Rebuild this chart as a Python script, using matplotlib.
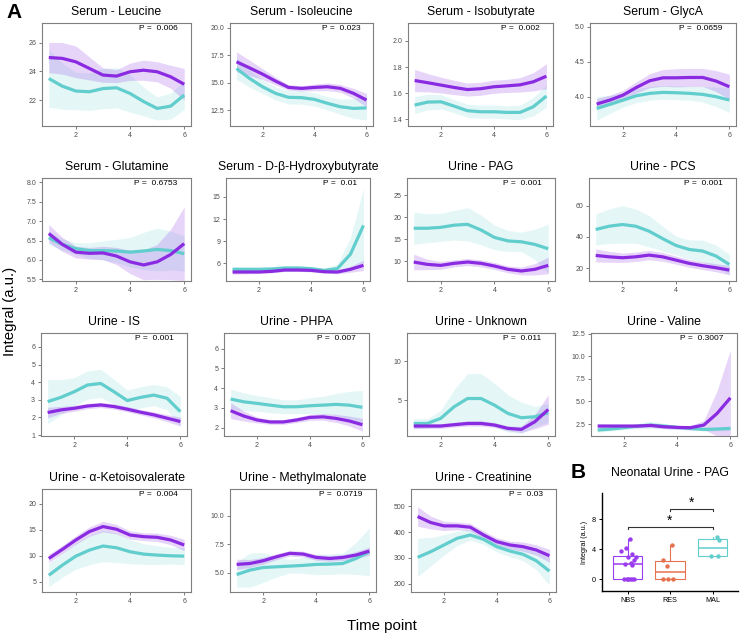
import numpy as np
import matplotlib
matplotlib.use('Agg')
import matplotlib.pyplot as plt

plt.rcParams['font.family'] = ['Liberation Sans', 'DejaVu Sans']

# time points of the smoothed curves
tp = [1, 1.5, 2, 2.5, 3, 3.5, 4, 4.5, 5, 5.5, 6]

# ---- panel A data: fitted curve + half width of the ribbon ----
# purple group (_p) and teal group (_t)
leu_p = [24.96, 24.9, 24.66, 24.2, 23.74, 23.67, 23.97, 24.08, 23.97, 23.62, 23.1]
leu_p_se = [1.05, 1.1, 1.1, 0.8, 0.5, 0.45, 0.6, 0.7, 0.7, 0.8, 1.1]
leu_t = [23.5, 22.97, 22.63, 22.58, 22.8, 22.86, 22.46, 21.9, 21.42, 21.58, 22.35]
leu_t_se = [2.0, 1.6, 1.3, 1.3, 1.4, 1.4, 1.3, 1.0, 0.8, 0.9, 1.0]

ile_p = [16.89, 16.34, 15.77, 15.14, 14.56, 14.47, 14.56, 14.62, 14.47, 14.02, 13.41]
ile_p_se = [0.9, 0.7, 0.5, 0.35, 0.25, 0.25, 0.3, 0.35, 0.35, 0.45, 0.6]
ile_t = [16.28, 15.38, 14.62, 14.02, 13.66, 13.63, 13.47, 13.11, 12.8, 12.65, 12.7]
ile_t_se = [1.0, 0.8, 0.6, 0.6, 0.6, 0.6, 0.6, 0.6, 0.7, 0.9, 1.1]

iso_p = [1.697, 1.68, 1.662, 1.644, 1.628, 1.634, 1.649, 1.656, 1.664, 1.687, 1.73]
iso_p_se = [0.085, 0.07, 0.06, 0.055, 0.05, 0.05, 0.05, 0.05, 0.055, 0.07, 0.095]
iso_t = [1.509, 1.532, 1.534, 1.501, 1.466, 1.458, 1.458, 1.453, 1.453, 1.496, 1.578]
iso_t_se = [0.065, 0.06, 0.055, 0.05, 0.05, 0.05, 0.05, 0.05, 0.055, 0.07, 0.085]

gly_p = [3.895, 3.952, 4.024, 4.133, 4.229, 4.271, 4.271, 4.276, 4.276, 4.224, 4.143]
gly_p_se = [0.08, 0.07, 0.07, 0.08, 0.1, 0.12, 0.13, 0.13, 0.13, 0.15, 0.18]
gly_t = [3.833, 3.89, 3.952, 4.014, 4.048, 4.062, 4.057, 4.048, 4.033, 4.0, 3.952]
gly_t_se = [0.17, 0.13, 0.1, 0.1, 0.1, 0.1, 0.1, 0.1, 0.11, 0.14, 0.18]

gln_p = [6.68, 6.40, 6.20, 6.17, 6.18, 6.10, 5.95, 5.87, 5.95, 6.14, 6.42]
gln_p_se = [0.23, 0.18, 0.15, 0.15, 0.17, 0.22, 0.3, 0.38, 0.45, 0.65, 0.95]
gln_t = [6.57, 6.40, 6.29, 6.24, 6.24, 6.23, 6.20, 6.23, 6.27, 6.24, 6.16]
gln_t_se = [0.17, 0.15, 0.15, 0.2, 0.25, 0.3, 0.38, 0.48, 0.55, 0.5, 0.45]

bhb_p = [4.83, 4.83, 4.83, 4.92, 5.1, 5.1, 5.05, 4.87, 4.83, 5.19, 5.73]
bhb_p_se = [0.3, 0.25, 0.2, 0.2, 0.2, 0.2, 0.2, 0.2, 0.25, 0.4, 0.7]
bhb_t = [5.19, 5.19, 5.19, 5.24, 5.37, 5.37, 5.28, 5.05, 5.28, 7.22, 11.14]
bhb_t_se = [0.4, 0.3, 0.3, 0.3, 0.35, 0.35, 0.3, 0.3, 0.6, 2.2, 5.0]

pag_p = [9.77, 9.24, 9.0, 9.47, 9.77, 9.47, 8.86, 8.1, 7.72, 8.1, 9.0]
pag_p_se = [1.8, 1.2, 0.9, 0.8, 0.8, 0.8, 0.8, 0.8, 0.9, 1.3, 1.9]
pag_t = [17.5, 17.5, 17.7, 18.2, 18.4, 17.1, 15.4, 14.6, 14.4, 13.8, 12.8]
pag_t_se = [3.7, 3.3, 3.2, 3.4, 3.8, 3.4, 2.8, 2.4, 2.2, 3.5, 5.6]

pcs_p = [28.1, 27.2, 26.6, 27.2, 28.3, 27.2, 25.1, 23.0, 21.5, 20.2, 18.7]
pcs_p_se = [4.2, 3.5, 3.0, 3.0, 3.0, 2.8, 2.6, 2.5, 2.5, 2.6, 3.0]
pcs_t = [44.7, 46.8, 47.9, 46.8, 43.6, 38.9, 34.5, 31.9, 30.9, 27.7, 22.3]
pcs_t_se = [10, 11, 12, 11, 10, 8, 6, 6, 7, 7, 6.5]

is_p = [2.28, 2.43, 2.52, 2.65, 2.71, 2.62, 2.47, 2.30, 2.15, 1.96, 1.77]
is_p_se = [0.3, 0.2, 0.17, 0.15, 0.15, 0.15, 0.15, 0.15, 0.17, 0.2, 0.25]
is_t = [2.9, 3.14, 3.46, 3.84, 3.93, 3.46, 2.96, 3.14, 3.27, 3.09, 2.33]
is_t_se = [1.25, 1.0, 0.8, 0.8, 0.8, 0.7, 0.6, 0.6, 0.6, 0.65, 0.85]

phpa_p = [2.86, 2.59, 2.39, 2.29, 2.29, 2.39, 2.52, 2.55, 2.47, 2.34, 2.15]
phpa_p_se = [0.4, 0.25, 0.15, 0.12, 0.12, 0.13, 0.15, 0.17, 0.2, 0.25, 0.32]
phpa_t = [3.45, 3.31, 3.23, 3.14, 3.06, 3.06, 3.11, 3.14, 3.18, 3.14, 3.03]
phpa_t_se = [0.5, 0.45, 0.4, 0.38, 0.35, 0.35, 0.4, 0.45, 0.55, 0.7, 0.85]

unk_p = [1.67, 1.67, 1.67, 1.84, 2.0, 2.0, 1.8, 1.37, 1.24, 2.22, 3.8]
unk_p_se = [0.35, 0.3, 0.3, 0.3, 0.35, 0.35, 0.3, 0.3, 0.4, 0.9, 1.9]
unk_t = [2.0, 2.0, 2.65, 4.15, 5.21, 5.21, 4.36, 3.29, 2.74, 2.86, 3.38]
unk_t_se = [0.65, 0.6, 1.0, 2.2, 3.2, 3.2, 2.8, 2.4, 2.0, 1.3, 1.2]

val_p = [2.28, 2.28, 2.28, 2.28, 2.35, 2.2, 2.13, 2.1, 2.39, 3.68, 5.4]
val_p_se = [0.25, 0.2, 0.2, 0.2, 0.2, 0.2, 0.2, 0.25, 0.5, 2.5, 5.3]
val_t = [1.84, 1.95, 2.1, 2.28, 2.39, 2.28, 2.13, 2.02, 1.91, 1.95, 2.02]
val_t_se = [0.25, 0.2, 0.2, 0.3, 0.4, 0.3, 0.2, 0.2, 0.2, 0.2, 0.25]

kiv_p = [9.5, 11.24, 13.05, 14.66, 15.62, 15.11, 14.0, 13.69, 13.56, 13.05, 12.08]
kiv_p_se = [0.8, 0.75, 0.8, 0.9, 1.0, 0.9, 0.8, 0.75, 0.8, 0.9, 1.1]
kiv_t = [6.28, 8.22, 9.95, 11.11, 11.89, 11.56, 10.79, 10.34, 10.15, 10.02, 9.95]
kiv_t_se = [2.2, 2.3, 2.5, 2.8, 3.0, 2.8, 2.3, 2.0, 1.8, 1.6, 1.6]

mma_p = [5.74, 5.82, 6.06, 6.41, 6.71, 6.65, 6.35, 6.26, 6.35, 6.56, 6.91]
mma_p_se = [0.45, 0.35, 0.3, 0.25, 0.25, 0.25, 0.25, 0.25, 0.25, 0.3, 0.35]
mma_t = [4.85, 5.24, 5.47, 5.53, 5.59, 5.65, 5.74, 5.76, 5.82, 6.26, 6.85]
mma_t_se = [1.1, 1.5, 1.3, 0.9, 0.6, 0.7, 0.9, 0.9, 0.9, 1.4, 2.1]

cre_p = [460.9, 437.4, 424.4, 424.4, 419.2, 389.2, 363.1, 350.1, 343.5, 330.5, 308.3]
cre_p_se = [38, 25, 18, 15, 15, 15, 15, 15, 18, 20, 25]
cre_t = [301.8, 324, 350, 376, 389, 372, 343.5, 326.6, 313.6, 288.8, 248.4]
cre_t_se = [75, 55, 40, 28, 20, 20, 20, 22, 25, 35, 55]

titles = ['Serum - Leucine', 'Serum - Isoleucine', 'Serum - Isobutyrate', 'Serum - GlycA',
          'Serum - Glutamine', 'Serum - D-\u03b2-Hydroxybutyrate', 'Urine - PAG', 'Urine - PCS',
          'Urine - IS', 'Urine - PHPA', 'Urine - Unknown', 'Urine - Valine',
          'Urine - \u03b1-Ketoisovalerate', 'Urine - Methylmalonate', 'Urine - Creatinine']
pvals = ['0.006', '0.023', '0.002', '0.0659', '0.6753', '0.01', '0.001', '0.001',
         '0.001', '0.007', '0.011', '0.3007', '0.004', '0.0719', '0.03']
series = [(leu_p, leu_p_se, leu_t, leu_t_se), (ile_p, ile_p_se, ile_t, ile_t_se),
          (iso_p, iso_p_se, iso_t, iso_t_se), (gly_p, gly_p_se, gly_t, gly_t_se),
          (gln_p, gln_p_se, gln_t, gln_t_se), (bhb_p, bhb_p_se, bhb_t, bhb_t_se),
          (pag_p, pag_p_se, pag_t, pag_t_se), (pcs_p, pcs_p_se, pcs_t, pcs_t_se),
          (is_p, is_p_se, is_t, is_t_se), (phpa_p, phpa_p_se, phpa_t, phpa_t_se),
          (unk_p, unk_p_se, unk_t, unk_t_se), (val_p, val_p_se, val_t, val_t_se),
          (kiv_p, kiv_p_se, kiv_t, kiv_t_se), (mma_p, mma_p_se, mma_t, mma_t_se),
          (cre_p, cre_p_se, cre_t, cre_t_se)]
ylims = [(20.2, 27.36), (11.05, 20.42), (1.349, 2.137), (3.58, 5.057),
         (5.457, 8.11), (3.61, 17.57), (5.43, 29.0), (11.7, 77.7),
         (0.95, 6.79), (1.58, 6.79), (0.39, 13.63), (1.18, 12.57),
         (3.07, 22.83), (3.32, 12.35), (167, 568)]
yticklabels = [['22', '24', '26'], ['12.5', '15.0', '17.5', '20.0'], ['1.4', '1.6', '1.8', '2.0'],
               ['4.0', '4.5', '5.0'], ['5.5', '6.0', '6.5', '7.0', '7.5', '8.0'],
               ['6', '9', '12', '15'], ['10', '15', '20', '25'], ['20', '40', '60'],
               ['1', '2', '3', '4', '5', '6'], ['2', '3', '4', '5', '6'], ['5', '10'],
               ['2.5', '5.0', '7.5', '10.0', '12.5'], ['5', '10', '15', '20'],
               ['5.0', '7.5', '10.0'], ['200', '300', '400', '500']]

# ---- panel B data ----
groups = ['NBS', 'RES', 'MAL']
nbs = [0, 0, 0, 0, 0, 0, 1.9, 2.0, 2.1, 2.6, 2.9, 3.0, 3.3, 3.7, 4.2, 5.3]
nbs_jit = [-0.08, -0.02, 0.0, 0.05, 0.11, 0.16, 0.1, -0.05, 0.08, 0.16, 0.02, 0.2, 0.1, -0.16, -0.04, 0.06]
res = [0, 0, 0, 1.75, 2.6, 4.5]
res_jit = [-0.16, -0.04, 0.08, -0.08, -0.16, 0.05]
mal = [3.1, 3.1, 5.2, 5.65]
mal_jit = [-0.04, 0.14, 0.16, 0.1]
brackets = [(1, 3, 7.0, '*'), (2, 3, 9.4, '*')]

purple = '#8a2be2'
teal = '#62cdcd'
b_cols = ['#9a3cf0', '#e5714f', '#62cdcd']

W, H = 740, 638
fig = plt.figure(figsize=(W / 100, H / 100), dpi=100)


def px_axes(l, t, r, b):
    return fig.add_axes([l / W, 1 - b / H, (r - l) / W, (b - t) / H])


boxes = [(42, 23, 191, 126), (230, 23, 373, 126), (408, 23, 553, 126), (590, 23, 736, 126),
         (42, 178, 191, 281), (226, 178, 370, 281), (407, 178, 555, 281), (589, 178, 736, 281),
         (41, 333, 187, 436), (224, 333, 369, 436), (407, 333, 555, 436), (591, 333, 737, 436),
         (42, 489, 191, 592), (230, 489, 376, 592), (411, 489, 556, 592)]

x = np.array(tp)
for i in range(15):
    ax = px_axes(*boxes[i])
    p, pse, t, tse = [np.array(a, dtype=float) for a in series[i]]
    ax.fill_between(x, t - tse, t + tse, color=teal, alpha=0.17, lw=0)
    ax.fill_between(x, p - pse, p + pse, color=purple, alpha=0.2, lw=0)
    ax.plot(x, t, color=teal, lw=2.3, solid_capstyle='butt', solid_joinstyle='round')
    ax.plot(x, p, color=purple, lw=2.3, solid_capstyle='butt', solid_joinstyle='round')
    ax.set_xlim(0.75, 6.25)
    ax.set_ylim(*ylims[i])
    ax.set_xticks([2, 4, 6])
    ax.set_xticklabels(['2', '4', '6'])
    ax.set_yticks([float(s) for s in yticklabels[i]])
    ax.set_yticklabels(yticklabels[i])
    ax.tick_params(length=2.2, width=0.6, color='#666666', labelsize=5, labelcolor='#4d4d4d', pad=2)
    for s in ax.spines.values():
        s.set_color('#7f7f7f')
        s.set_linewidth(0.8)
    ax.set_title(titles[i], fontsize=8.8, pad=6)
    ax.text(0.91, 0.945, 'P =  ' + pvals[i], transform=ax.transAxes, ha='right', va='center', fontsize=6)

# ---- panel B ----
axb = px_axes(602, 493, 738, 591)
data_b = [nbs, res, mal]
jit_b = [nbs_jit, res_jit, mal_jit]
for k in range(3):
    bp = axb.boxplot(data_b[k], positions=[k + 1], widths=0.7, showfliers=False, patch_artist=True,
                     showcaps=False, whis=1.5)
    for b in bp['boxes']:
        b.set_facecolor('white')
        b.set_edgecolor(b_cols[k])
        b.set_linewidth(0.8)
    for w in bp['whiskers']:
        w.set_color(b_cols[k])
        w.set_linewidth(0.8)
    for m in bp['medians']:
        m.set_color(b_cols[k])
        m.set_linewidth(1.1)
    axb.scatter(np.array(jit_b[k]) + k + 1, data_b[k], s=10, color=b_cols[k], zorder=3, lw=0)
for g1, g2, yb, lab in brackets:
    axb.plot([g1, g1, g2, g2], [yb - 0.3, yb, yb, yb - 0.3], color='#333333', lw=0.8)
    axb.text((g1 + g2) / 2, yb + 0.75, lab, ha='center', va='center', fontsize=10)
axb.set_xlim(0.4, 3.6)
axb.set_ylim(-1.6, 11.5)
axb.set_xticks([1, 2, 3])
axb.set_xticklabels(groups)
axb.set_yticks([0, 4, 8])
axb.spines['top'].set_visible(False)
axb.spines['right'].set_visible(False)
axb.spines['left'].set_linewidth(1.0)
axb.spines['bottom'].set_linewidth(1.0)
axb.tick_params(length=2.2, width=0.7, labelsize=5.2, pad=2)
axb.set_ylabel('Integral (a.u.)', fontsize=5.2, labelpad=3)
axb.set_title('Neonatal Urine - PAG', fontsize=8.8, pad=12)

# shared labels and panel letters
fig.text(10 / W, 1 - 311 / H, 'Integral (a.u.)', rotation=90, ha='center', va='center', fontsize=10.8)
fig.text(382 / W, 1 - 626 / H, 'Time point', ha='center', va='center', fontsize=10.8)
fig.text(14 / W, 1 - 12 / H, 'A', ha='center', va='center', fontsize=15, fontweight='bold')
fig.text(578 / W, 1 - 473 / H, 'B', ha='center', va='center', fontsize=15, fontweight='bold')

fig.savefig('out.png', dpi=100)
